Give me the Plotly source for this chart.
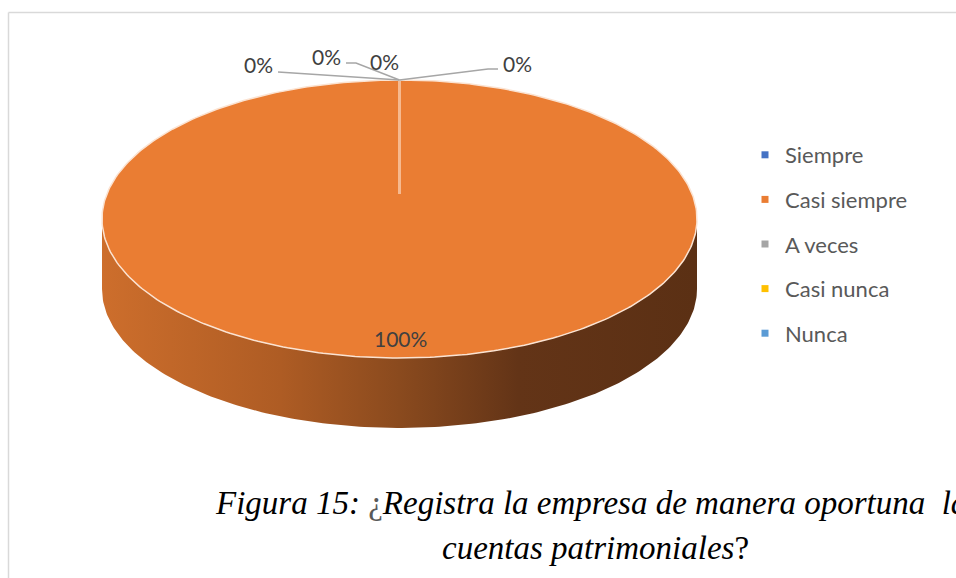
import numpy as np
import plotly.graph_objects as go

# ---- data ----
categories = ["Siempre", "Casi siempre", "A veces", "Casi nunca", "Nunca"]
values = [0, 100, 0, 0, 0]
colors = ["#4472c4", "#ea7d33", "#a5a5a5", "#ffc000", "#5b9bd5"]
pct_labels = [f"{v / sum(values) * 100:.0f}%" for v in values]

# ---- geometry of the pseudo-3D pie (pixel-like axes) ----
W, H = 956, 578
CX, CY, RX, RY, DEPTH = 399.5, 219, 297.5, 139, 70

fig = go.Figure()

def ell(theta, dy=0.0):
    return CX + RX * np.cos(theta), CY + RY * np.sin(theta) + dy

# slice angles: start at top (-pi/2 in screen coords, y down), clockwise
total = sum(values)
starts, ends = [], []
a = -np.pi / 2
for v in values:
    starts.append(a)
    a = a + 2 * np.pi * v / total
    ends.append(a)

# side walls (front visible part, angles 0..pi)
for i, v in enumerate(values):
    if v <= 0:
        continue
    full = ends[i] - starts[i] >= 2 * np.pi - 1e-9
    lo = 0.0 if full else max(starts[i], 0.0)
    hi = np.pi if full else min(ends[i], np.pi)
    if hi <= lo:
        continue
    th = np.linspace(lo, hi, 200)
    xt, yt = ell(th)
    xb, yb = ell(th[::-1], DEPTH)
    fig.add_trace(go.Scatter(
        x=np.concatenate([xt, xb, xt[:1]]), y=np.concatenate([yt, yb, yt[:1]]),
        mode="lines", line=dict(width=0), fill="toself",
        fillgradient=dict(type="horizontal",
                          colorscale=[[0, "#cd6e2c"], [0.3, "#ae5c24"], [0.5, "#8a4a1e"],
                                      [0.7, "#633417"], [1, "#5b3014"]]),
        hoverinfo="skip", showlegend=False))

# top faces
for i, v in enumerate(values):
    if v <= 0:
        continue
    th = np.linspace(starts[i], ends[i], 400)
    xt, yt = ell(th)
    if ends[i] - starts[i] < 2 * np.pi - 1e-9:
        xt = np.concatenate([[CX], xt, [CX]])
        yt = np.concatenate([[CY], yt, [CY]])
    fig.add_trace(go.Scatter(
        x=xt, y=yt, mode="lines", line=dict(color="#fbe3d2", width=1.5),
        fill="toself", fillcolor=colors[i], hoverinfo="skip", showlegend=False))

# slice boundary line (radial)
x0, y0 = ell(starts[1])
fig.add_trace(go.Scatter(
    x=[x0, x0], y=[y0 + 1, y0 + 0.82 * RY], mode="lines",
    line=dict(color="#f6b98f", width=3), hoverinfo="skip", showlegend=False))

# leader lines for the 0% labels
tx, ty = ell(-np.pi / 2)
leaders = [
    ([278, tx], [72, ty]),
    ([346, 356, tx], [63, 63, ty]),
    ([498, 488, tx], [69, 69, ty]),
]
for lx, ly in leaders:
    fig.add_trace(go.Scatter(x=lx, y=ly, mode="lines", line=dict(color="#a6a6a6", width=1.5),
                             hoverinfo="skip", showlegend=False))

# data labels
label_pos_by_cat = {0: (258, 64), 2: (326, 56), 3: (384, 61), 1: (400, 338), 4: (517, 63)}
for i, lab in enumerate(pct_labels):
    px, py = label_pos_by_cat[i]
    fig.add_annotation(x=px, y=py, text=lab, showarrow=False, xanchor="center", yanchor="middle",
                       font=dict(family="Lato, Open Sans, sans-serif", size=21, color="#404040"))

# legend traces
for i, c in enumerate(categories):
    fig.add_trace(go.Scatter(x=[None], y=[None], mode="markers", name=c,
                             marker=dict(symbol="square", size=7, color=colors[i]),
                             legendgroup=c, showlegend=True))

# caption
fig.add_annotation(xref="x", yref="y", x=597, y=503, xanchor="center", yanchor="middle",
                   showarrow=False,
                   text="<i>Figura 15: </i><span style='color:#595959'>¿</span><i>Registra la empresa de manera oportuna  las</i>",
                   font=dict(family="Liberation Serif, Times New Roman, serif", size=33, color="#000000"))
fig.add_annotation(xref="x", yref="y", x=595, y=548, xanchor="center", yanchor="middle",
                   showarrow=False,
                   text="<i>cuentas patrimoniales</i>?",
                   font=dict(family="Liberation Serif, Times New Roman, serif", size=33, color="#000000"))

# chart area border
fig.add_shape(type="line", xref="x", yref="y", x0=8.5, y0=12.5, x1=W, y1=12.5,
              line=dict(color="#d9d9d9", width=1.5))
fig.add_shape(type="line", xref="x", yref="y", x0=8.5, y0=12.5, x1=8.5, y1=H,
              line=dict(color="#d9d9d9", width=1.5))

fig.update_layout(
    width=W, height=H, margin=dict(l=0, r=0, t=0, b=0),
    paper_bgcolor="white", plot_bgcolor="white",
    xaxis=dict(range=[0, W], visible=False, fixedrange=True),
    yaxis=dict(range=[H, 0], visible=False, fixedrange=True),
    legend=dict(x=(765 - 20) / W, y=1 - 134 / H, xanchor="left", yanchor="top",
                font=dict(family="Lato, Open Sans, sans-serif", size=22, color="#595959"),
                tracegroupgap=13, bgcolor="rgba(0,0,0,0)", itemwidth=30),
    showlegend=True,
)

fig.write_html("out.html", config={"displayModeBar": False},
               post_script="document.body.style.margin='0';document.body.style.overflow='hidden';")
